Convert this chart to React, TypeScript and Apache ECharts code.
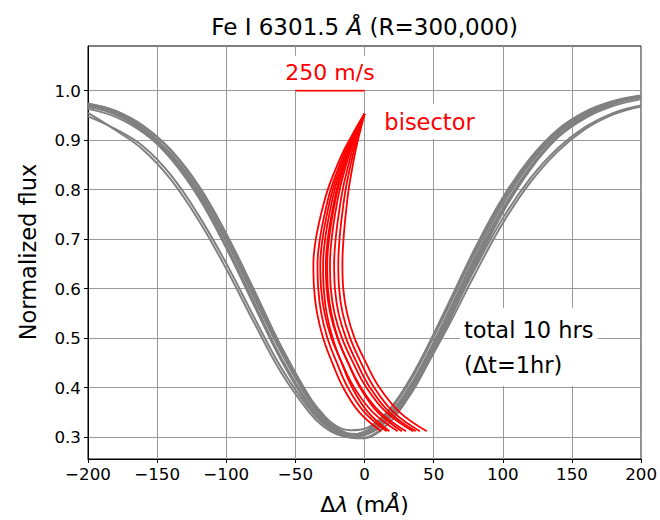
import React, { useEffect, useRef } from "react";
import * as echarts from "echarts";

// ---- axis ticks ----
const xTicks = [-200, -150, -100, -50, 0, 50, 100, 150, 200];
const yTicks = [0.3, 0.4, 0.5, 0.6, 0.7, 0.8, 0.9, 1.0];

// ---- line profiles (gray), sampled at profileX (mÅ) ----
const profileX = [-200, -180, -160, -140, -120, -100, -80, -60, -40, -30, -20, -10, 0, 10, 20, 30, 40, 60, 80, 100, 120, 140, 160, 180, 200];
const prof1 = [0.972, 0.956, 0.923, 0.872, 0.797, 0.698, 0.584, 0.470, 0.374, 0.340, 0.316, 0.306, 0.308, 0.324, 0.352, 0.391, 0.438, 0.549, 0.665, 0.770, 0.853, 0.914, 0.953, 0.976, 0.988];
const prof2 = [0.973, 0.959, 0.927, 0.879, 0.806, 0.709, 0.595, 0.481, 0.382, 0.346, 0.319, 0.307, 0.306, 0.319, 0.345, 0.382, 0.428, 0.538, 0.654, 0.761, 0.846, 0.909, 0.950, 0.974, 0.987];
const prof3 = [0.971, 0.953, 0.919, 0.865, 0.788, 0.687, 0.573, 0.459, 0.366, 0.334, 0.313, 0.305, 0.310, 0.329, 0.359, 0.400, 0.448, 0.560, 0.676, 0.779, 0.860, 0.919, 0.956, 0.978, 0.989];
const prof4 = [0.974, 0.959, 0.929, 0.880, 0.808, 0.711, 0.598, 0.481, 0.381, 0.343, 0.315, 0.301, 0.299, 0.312, 0.336, 0.373, 0.418, 0.528, 0.646, 0.754, 0.841, 0.906, 0.948, 0.973, 0.987];
const prof5 = [0.972, 0.955, 0.922, 0.870, 0.795, 0.696, 0.583, 0.471, 0.377, 0.345, 0.322, 0.314, 0.317, 0.334, 0.363, 0.402, 0.450, 0.560, 0.674, 0.777, 0.858, 0.918, 0.955, 0.977, 0.989];
const prof6 = [0.963, 0.947, 0.915, 0.867, 0.795, 0.699, 0.588, 0.475, 0.378, 0.343, 0.318, 0.306, 0.307, 0.322, 0.349, 0.387, 0.433, 0.542, 0.658, 0.761, 0.844, 0.906, 0.945, 0.969, 0.983];
const prof7 = [0.970, 0.952, 0.917, 0.862, 0.784, 0.682, 0.567, 0.454, 0.362, 0.331, 0.311, 0.305, 0.311, 0.331, 0.362, 0.404, 0.453, 0.566, 0.682, 0.784, 0.864, 0.922, 0.958, 0.979, 0.990];
const prof8 = [0.967, 0.952, 0.920, 0.872, 0.799, 0.701, 0.587, 0.473, 0.373, 0.336, 0.310, 0.299, 0.298, 0.310, 0.336, 0.374, 0.420, 0.531, 0.649, 0.757, 0.844, 0.908, 0.949, 0.974, 0.987];
const prof9 = [0.948, 0.922, 0.887, 0.829, 0.748, 0.651, 0.543, 0.439, 0.357, 0.327, 0.308, 0.300, 0.304, 0.318, 0.344, 0.378, 0.421, 0.521, 0.630, 0.732, 0.815, 0.878, 0.923, 0.952, 0.968];
const prof10 = [0.955, 0.920, 0.880, 0.820, 0.738, 0.640, 0.532, 0.429, 0.350, 0.322, 0.306, 0.301, 0.307, 0.324, 0.352, 0.387, 0.431, 0.532, 0.641, 0.742, 0.823, 0.884, 0.927, 0.955, 0.970];

// ---- bisectors (red): x (mÅ) at each flux level ----
const bisLevels = [0.953, 0.92, 0.88, 0.84, 0.80, 0.75, 0.70, 0.65, 0.60, 0.55, 0.50, 0.45, 0.40, 0.35, 0.312];
const bis1 = [0, -7.0, -14.8, -21.1, -26.6, -31.5, -35.2, -37.0, -36.5, -34.3, -29.9, -23.3, -15.4, -3.7, 12];
const bis2 = [0, -6.5, -13.6, -19.4, -24.5, -28.9, -32.3, -34.0, -33.5, -31.3, -26.8, -20.0, -12.0, 0.0, 16];
const bis3 = [0, -6.1, -12.8, -18.2, -23.0, -27.2, -30.4, -32.0, -31.4, -28.9, -23.9, -16.3, -7.4, 6.1, 24];
const bis4 = [0, -5.7, -12.0, -17.1, -21.6, -25.5, -28.5, -30.0, -29.5, -27.4, -23.0, -16.6, -8.9, 2.6, 18];
const bis5 = [0, -5.3, -11.2, -16.0, -20.2, -23.8, -26.6, -28.0, -27.4, -24.8, -19.6, -11.8, -2.5, 11.4, 30];
const bis6 = [0, -5.1, -10.8, -15.4, -19.4, -23.0, -25.7, -27.0, -26.5, -24.0, -19.2, -11.9, -3.2, 9.7, 27];
const bis7 = [0, -4.8, -10.0, -14.3, -18.0, -21.3, -23.8, -25.0, -24.4, -21.7, -16.3, -8.2, 1.4, 15.8, 35];
const bis8 = [0, -4.2, -8.8, -12.5, -15.8, -18.7, -20.9, -22.0, -21.4, -18.8, -13.4, -5.5, 4.0, 18.1, 37];
const bis9 = [0, -3.6, -7.6, -10.8, -13.7, -16.2, -18.1, -19.0, -18.4, -15.8, -10.4, -2.5, 7.0, 21.1, 40];
const bis10 = [0, -3.0, -6.4, -9.1, -11.5, -13.6, -15.2, -16.0, -15.4, -12.6, -7.2, 1.1, 10.8, 25.5, 45];

// ---- scale bar (250 m/s) ----
const scaleBarX = [-50, 0];
const scaleBarY = [1.0, 1.0];

// ---- annotation anchors (data coords) ----
const scaleLabelPos = [-25, 1.036];
const bisectorLabelPos = [10.0, 0.937];
const totalLabelPos = [69, 0.482];

const FONT = "DejaVu Sans";

export default function App() {
  const ref = useRef<HTMLDivElement>(null);

  useEffect(() => {
    const chart = echarts.init(ref.current!, null, { renderer: "svg" });
    const profiles = [prof1, prof2, prof3, prof4, prof5, prof6, prof7, prof8, prof9, prof10];
    const bisectors = [bis1, bis2, bis3, bis4, bis5, bis6, bis7, bis8, bis9, bis10];
    const series: any[] = [];
    profiles.forEach((p, k) => {
      series.push({
        type: "line",
        name: "profile " + (k + 1),
        data: profileX.map((x, i) => [x, p[i]]),
        smooth: 0.4,
        showSymbol: false,
        silent: true,
        lineStyle: { color: "#808080", width: 2 },
        z: 2,
      });
    });
    bisectors.forEach((b, k) => {
      series.push({
        type: "line",
        name: "bisector " + (k + 1),
        data: bisLevels.map((y, i) => [b[i], y]),
        smooth: 0.4,
        showSymbol: false,
        silent: true,
        lineStyle: { color: "#ff0000", width: 1.8 },
        z: 3,
      });
    });
    series.push({
      type: "line",
      name: "scale",
      data: scaleBarX.map((x, i) => [x, scaleBarY[i]]),
      showSymbol: false,
      silent: true,
      lineStyle: { color: "#ff0000", width: 2 },
      z: 3,
    });

    chart.setOption({
      animation: false,
      backgroundColor: "#ffffff",
      grid: {
        left: 88,
        top: 46,
        width: 554,
        height: 413,
        show: true,
        borderColor: "#000",
        borderWidth: 1,
        containLabel: false,
      },
      xAxis: {
        type: "value",
        min: -200,
        max: 200,
        interval: 50,
        axisLine: { show: true, onZero: false, lineStyle: { color: "#000", width: 1 } },
        axisTick: { show: true, inside: false, length: 4, lineStyle: { color: "#000" } },
        axisLabel: {
          color: "#000",
          fontFamily: FONT,
          fontSize: 16.7,
          margin: 6,
          formatter: (v: number) => String(v).replace("-", "\u2212"),
        },
        splitLine: { show: true, lineStyle: { color: "#999", width: 1 } },
      },
      yAxis: {
        type: "value",
        min: 0.256,
        max: 1.09,
        axisLine: { show: true, onZero: false, lineStyle: { color: "#000", width: 1 } },
        axisTick: { show: true, inside: false, length: 4, lineStyle: { color: "#000" }, customValues: yTicks },
        axisLabel: {
          color: "#000",
          fontFamily: FONT,
          fontSize: 16.7,
          margin: 7,
          customValues: yTicks,
          formatter: (v: number) => v.toFixed(1),
        },
        splitLine: { show: true, lineStyle: { color: "#999", width: 1 } },
      },
      series,
    });

    const px = (p: number[]) => chart.convertToPixel({ gridIndex: 0 }, p) as number[];
    const s = px(scaleLabelPos);
    const b = px(bisectorLabelPos);
    const t = px(totalLabelPos);
    const x0 = px([0, 0.5])[0];

    chart.setOption({
      graphic: [
        {
          type: "text",
          x: x0,
          y: 27,
          z: 10,
          style: {
            text: "Fe I 6301.5 {i|Å} (R=300,000)",
            fill: "#000",
            font: `23px "${FONT}"`,
            align: "center",
            verticalAlign: "middle",
            rich: { i: { fontStyle: "italic", fontSize: 23, fontFamily: FONT, fill: "#000" } },
          },
        },
        {
          type: "text",
          x: 28,
          y: 252,
          rotation: Math.PI / 2,
          z: 10,
          style: {
            text: "Normalized flux",
            fill: "#000",
            font: `22.5px "${FONT}"`,
            align: "center",
            verticalAlign: "middle",
          },
        },
        {
          type: "text",
          x: x0,
          y: 504,
          z: 10,
          style: {
            text: "Δ{i|λ} (m{i|Å})",
            fill: "#000",
            font: `22px "${FONT}"`,
            align: "center",
            verticalAlign: "middle",
            rich: { i: { fontStyle: "italic", fontSize: 22, fontFamily: FONT, fill: "#000" } },
          },
        },
        {
          type: "text",
          x: s[0],
          y: s[1],
          z: 10,
          style: {
            text: "250 m/s",
            fill: "#ff0000",
            font: `22px "${FONT}"`,
            align: "center",
            verticalAlign: "middle",
            backgroundColor: "#fff",
            padding: [6, 8],
          },
        },
        {
          type: "text",
          x: b[0],
          y: b[1],
          z: 10,
          style: {
            text: "bisector",
            fill: "#ff0000",
            font: `22.5px "${FONT}"`,
            align: "left",
            verticalAlign: "middle",
            backgroundColor: "#fff",
            padding: [6, 6],
          },
        },
        {
          type: "text",
          x: t[0],
          y: t[1],
          z: 10,
          style: {
            text: "total 10 hrs\n(Δt=1hr)",
            fill: "#000",
            font: `22.5px "${FONT}"`,
            lineHeight: 35,
            align: "left",
            verticalAlign: "middle",
            backgroundColor: "#fff",
            padding: [4, 4],
          },
        },
      ],
    });

    return () => chart.dispose();
  }, []);

  return (
    <div
      ref={ref}
      style={{ position: "fixed", left: 0, top: 0, width: 660, height: 520 }}
    />
  );
}
